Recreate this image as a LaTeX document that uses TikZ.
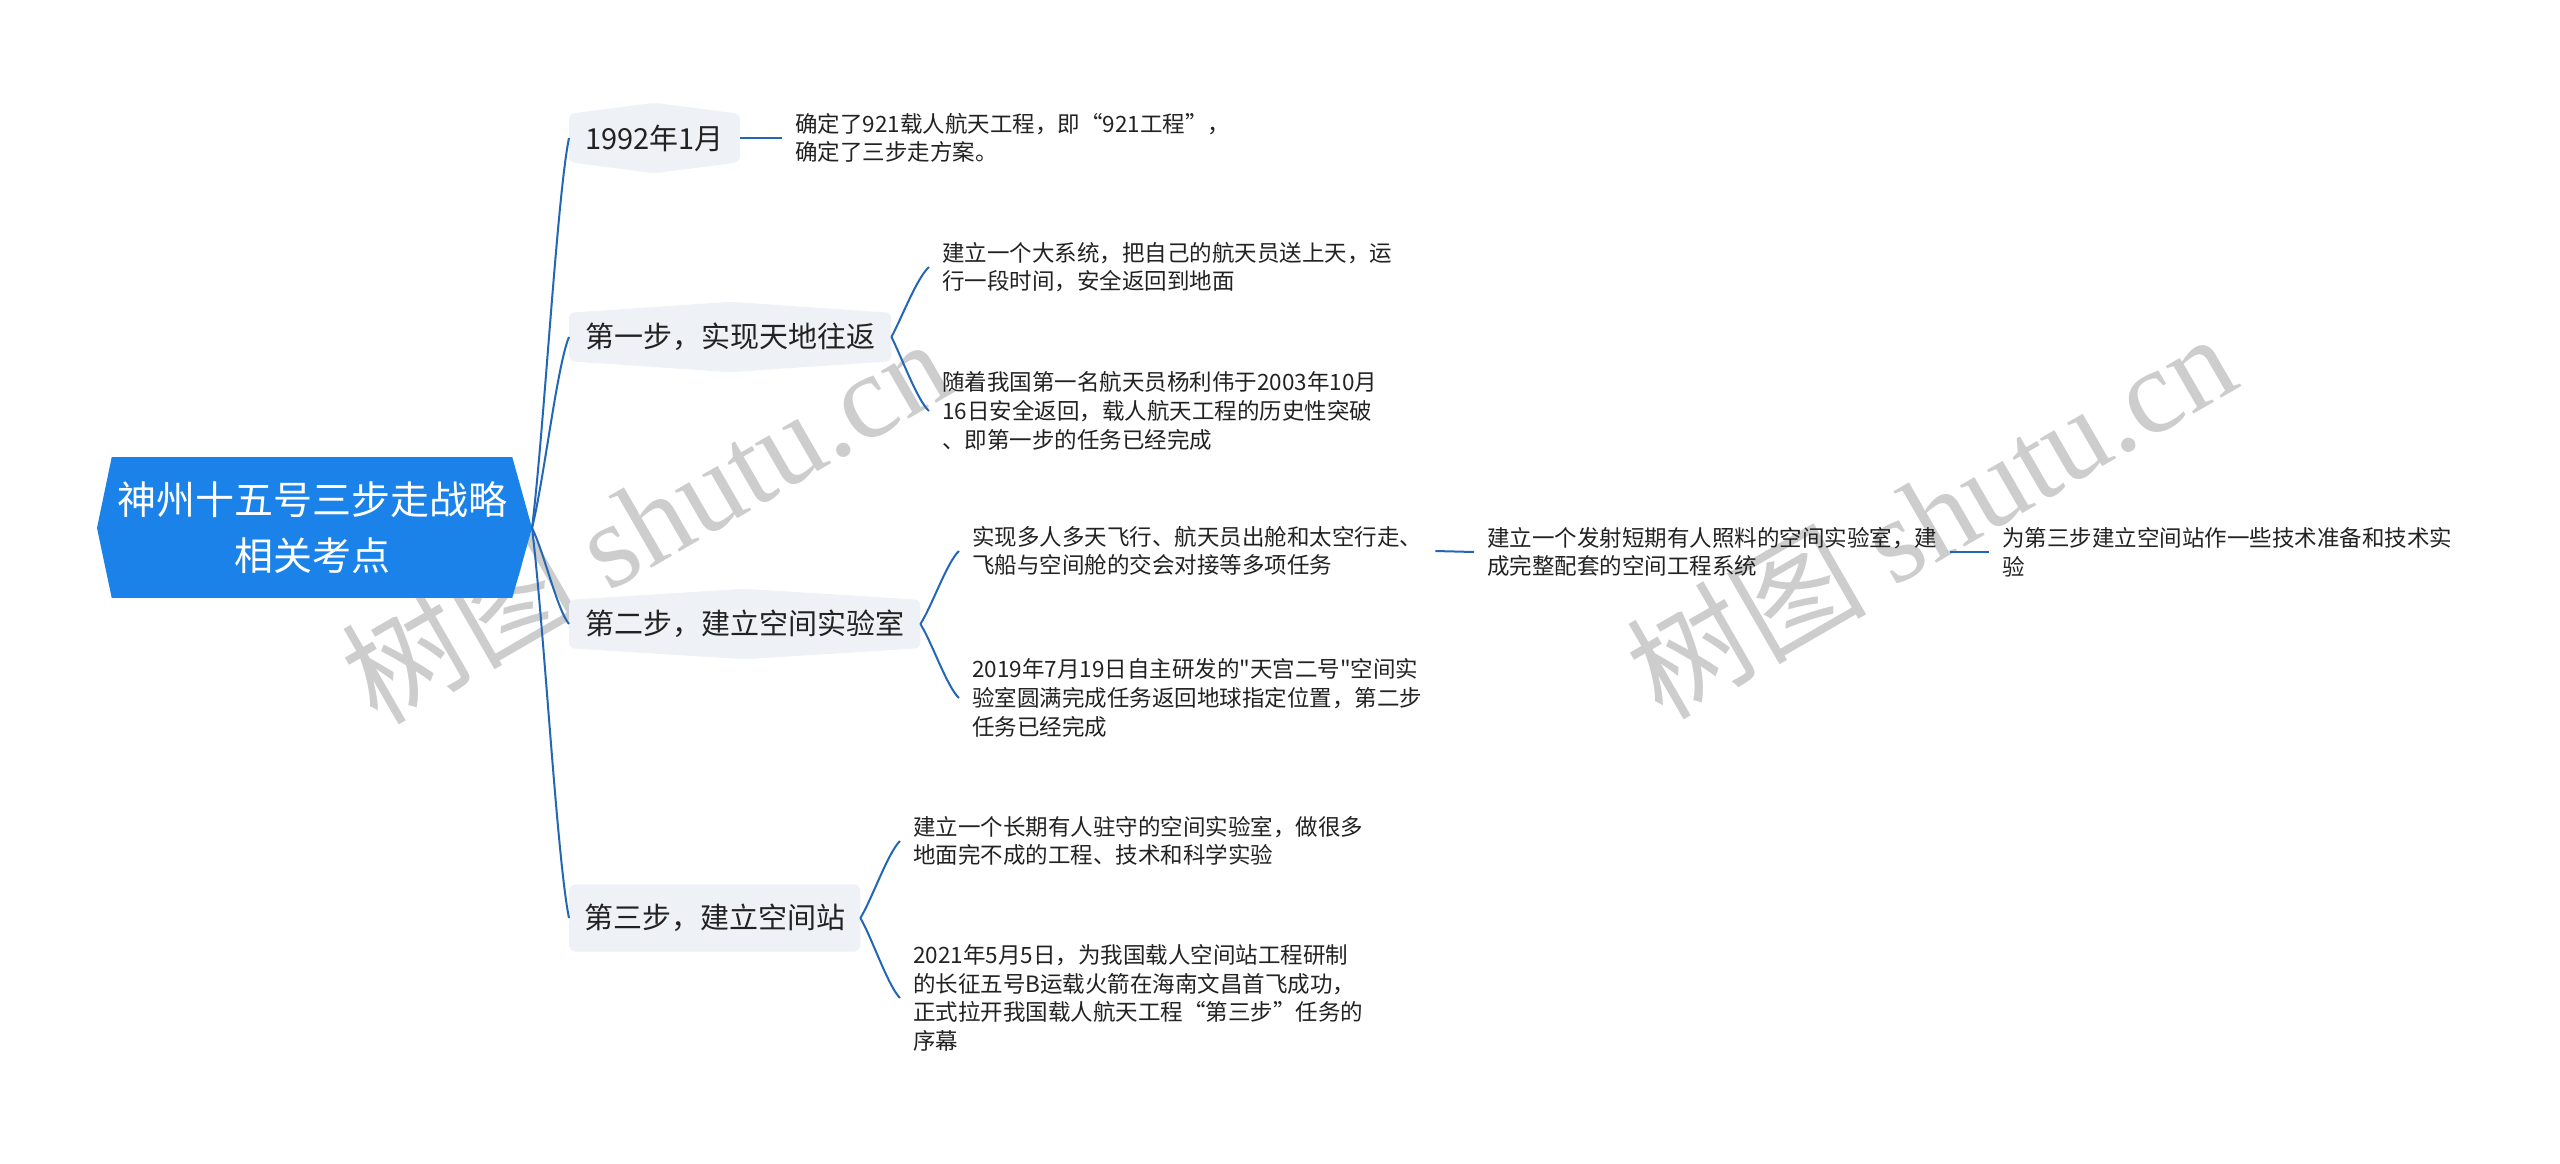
\documentclass[tikz,border=0pt]{standalone}
\usepackage{fontspec}
\setmainfont{Noto Sans CJK SC}[Ligatures=TeXOff]
\newfontfamily\wmserif{Liberation Serif}
\usetikzlibrary{calc,backgrounds}
\definecolor{rootblue}{HTML}{1A82E8}
\definecolor{lfill}{HTML}{EEF1F5}
\definecolor{linkblue}{HTML}{2267B5}
\definecolor{txt}{HTML}{222222}
\definecolor{wm}{HTML}{CDCDCD}
\begin{document}
\begin{tikzpicture}[x=1pt,y=-1pt,
  conn/.style={draw=linkblue, line width=2pt},
  roottext/.style={text=white, font=\fontsize{39}{56}\selectfont, align=center, inner sep=0pt, minimum width=400pt, minimum height=141pt},
  lone/.style={anchor=west, text=txt, font=\fontsize{29}{34}\selectfont, inner xsep=16pt, inner ysep=0pt, minimum height=48pt},
  ltwo/.style={anchor=west, text=txt, font=\fontsize{22.5}{28.7}\selectfont, align=left, inner xsep=13pt, inner ysep=0pt},
  wmark/.style={text=wm, rotate=30, font=\fontsize{120}{120}\selectfont, inner sep=0pt}]
\useasboundingbox (0,0) rectangle (2560,1163);
\begin{scope}[on background layer]
  \fill[white] (0,0) rectangle (2560,1163);
  \node[wmark] (wmA) at (645,519) {树图 {\wmserif shutu.cn}};
  \node[wmark] (wmB) at (1930,514) {树图 {\wmserif shutu.cn}};
\end{scope}

% root
\node[roottext, fill=rootblue] (root) at (312,527.5) {神州十五号三步走战略\\相关考点};
\fill[rootblue] (root.north west) -- (97,528) -- (root.south west) -- cycle;
\fill[rootblue] (root.north east) -- (532,528) -- (root.south east) -- cycle;
\coordinate (rootTip) at (532,528);

% level 1
\node[lone] (n0) at (569,138) {1992年1月};
\node[lone] (n1) at (569,337) {第一步，实现天地往返};
\node[lone] (n2) at (569,624) {第二步，建立空间实验室};
\node[lone, minimum height=67pt, inner xsep=15pt] (n3) at (569,918) {第三步，建立空间站};

\begin{scope}[on background layer]
  \foreach \n in {n0,n1,n2}
    \fill[lfill, rounded corners=6pt] (\n.north west) -- ($(\n.north)+(0,-11)$) -- (\n.north east) -- (\n.south east) -- ($(\n.south)+(0,11)$) -- (\n.south west) -- cycle;
  \fill[lfill, rounded corners=7pt] (n3.north west) rectangle (n3.south east);
\end{scope}

% level 2
\node[ltwo] (t0) at (782,138) {确定了921载人航天工程，即“921工程”，\\确定了三步走方案。};
\node[ltwo] (t1a) at (929,267) {建立一个大系统，把自己的航天员送上天，运\\行一段时间，安全返回到地面};
\node[ltwo] (t1b) at (929,411) {随着我国第一名航天员杨利伟于2003年10月\\16日安全返回，载人航天工程的历史性突破\\、即第一步的任务已经完成};
\node[ltwo] (t2a) at (959,551) {实现多人多天飞行、航天员出舱和太空行走、\\飞船与空间舱的交会对接等多项任务};
\node[ltwo] (t2b) at (959,698) {2019年7月19日自主研发的"天宫二号"空间实\\验室圆满完成任务返回地球指定位置，第二步\\任务已经完成};
\node[ltwo] (t2c) at (1474,552) {建立一个发射短期有人照料的空间实验室，建\\成完整配套的空间工程系统};
\node[ltwo] (t2d) at (1989,552) {为第三步建立空间站作一些技术准备和技术实\\验};
\node[ltwo] (t3a) at (900,841) {建立一个长期有人驻守的空间实验室，做很多\\地面完不成的工程、技术和科学实验};
\node[ltwo] (t3b) at (900,998) {2021年5月5日，为我国载人空间站工程研制\\的长征五号B运载火箭在海南文昌首飞成功，\\正式拉开我国载人航天工程“第三步”任务的\\序幕};

% connectors root -> level 1
\draw[conn] (rootTip) .. controls (544,430.5) and (557,196.5) .. (n0.west);
\draw[conn] (rootTip) .. controls (544,480) and (557,365.6) .. (n1.west);
\draw[conn] (rootTip) .. controls (544,552) and (557,609.6) .. (n2.west);
\draw[conn] (rootTip) .. controls (544,625.5) and (557,859.5) .. (n3.west);

% level 1 -> level 2
\draw[conn] (n0.east) -- (t0.west);
\draw[conn] (n1.east) .. controls (901,319.5) and (917,277.5) .. (t1a.west);
\draw[conn] (n1.east) .. controls (901,355.5) and (917,400) .. (t1b.west);
\draw[conn] (n2.east) .. controls (932,606) and (947,562) .. (t2a.west);
\draw[conn] (n2.east) .. controls (932,642.5) and (947,687) .. (t2b.west);
\draw[conn] (n3.east) .. controls (872,899) and (888,852.5) .. (t3a.west);
\draw[conn] (n3.east) .. controls (872,938) and (888,986) .. (t3b.west);
\draw[conn] (t2a.east) -- (t2c.west);
\draw[conn] (t2c.east) -- (t2d.west);
\end{tikzpicture}
\end{document}
